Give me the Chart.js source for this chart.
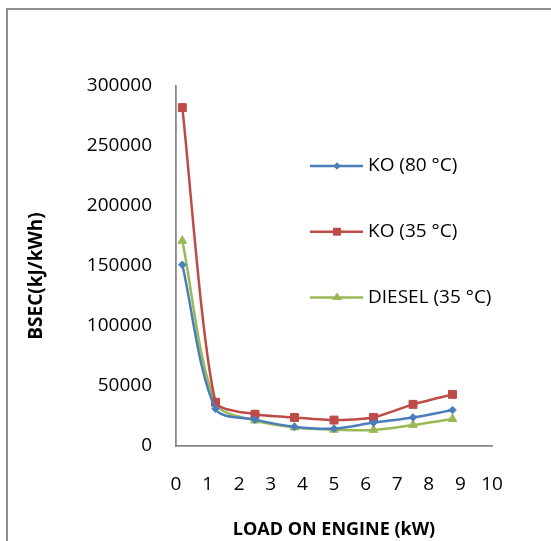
<!DOCTYPE html>
<html>
<head>
<meta charset="utf-8">
<script src="https://cdn.jsdelivr.net/npm/chart.js@4/dist/chart.umd.min.js"></script>
<style>
  html, body { margin: 0; padding: 0; background: #fff; }
  #wrap { position: relative; width: 551px; height: 541px; overflow: hidden; }
</style>
</head>
<body>
<div id="wrap"><canvas id="bsec" width="551" height="541"></canvas></div>
<script>
// load on engine (kW)
const loads = [0.2, 1.25, 2.5, 3.75, 5, 6.25, 7.5, 8.75];
// BSEC (kJ/kWh)
const ko80 = [151000, 31000, 22000, 16000, 14500, 19500, 23800, 30000];
const ko35 = [282000, 36500, 26500, 23800, 21600, 23800, 34700, 43000];
const diesel = [171000, 35500, 21200, 15500, 13600, 13400, 17500, 22500];

const xTicks = [0, 1, 2, 3, 4, 5, 6, 7, 8, 9, 10];
const yTicks = [0, 50000, 100000, 150000, 200000, 250000, 300000];

const FONT = "'Open Sans', sans-serif";
const toPoints = (ys) => ys.map((y, i) => ({ x: loads[i], y: y }));

const series = [
  { label: 'KO (80 °C)', data: ko80, color: '#4A7EBB', style: 'rectRot', r: 3.8, t: 0.3 },
  { label: 'KO (35 °C)', data: ko35, color: '#BE4B48', style: 'rect', r: 5.6, t: 0.22 },
  { label: 'DIESEL (35 °C)', data: diesel, color: '#98B954', style: 'triangle', r: 5, t: 0.3 },
];

// outer frame of the figure
const framePlugin = {
  id: 'frame',
  beforeDraw(chart) {
    const ctx = chart.ctx;
    ctx.save();
    ctx.strokeStyle = '#8e8e8e';
    ctx.lineWidth = 2;
    ctx.beginPath();
    ctx.moveTo(7, 541);
    ctx.lineTo(7, 9);
    ctx.lineTo(551, 9);
    ctx.stroke();
    ctx.restore();
  },
};

// y axis title, a bit below the middle like the original
const yTitlePlugin = {
  id: 'yTitle',
  afterDraw(chart) {
    const ctx = chart.ctx;
    ctx.save();
    ctx.translate(37, 276);
    ctx.rotate(-Math.PI / 2);
    ctx.font = 'bold 19px ' + FONT;
    ctx.fillStyle = '#000';
    ctx.textAlign = 'center';
    ctx.textBaseline = 'middle';
    ctx.fillText('BSEC(kJ/kWh)', 0, 0);
    ctx.restore();
  },
};

function drawMarker(ctx, style, r, x, y) {
  if (style === 'rect') {
    const s = r * Math.SQRT1_2;
    ctx.rect(x - s, y - s, 2 * s, 2 * s);
  } else if (style === 'rectRot') {
    ctx.moveTo(x, y - r);
    ctx.lineTo(x + r, y);
    ctx.lineTo(x, y + r);
    ctx.lineTo(x - r, y);
    ctx.closePath();
  } else {
    ctx.moveTo(x, y - r);
    ctx.lineTo(x + r, y + r * 0.5);
    ctx.lineTo(x - r, y + r * 0.5);
    ctx.closePath();
  }
}

// legend sitting inside the plot, on the right
const legendPlugin = {
  id: 'insideLegend',
  afterDraw(chart) {
    const ctx = chart.ctx;
    ctx.save();
    chart.data.datasets.forEach((ds, i) => {
      const y = 166 + i * 65.7;
      ctx.strokeStyle = ds.borderColor;
      ctx.lineWidth = 2.5;
      ctx.beginPath();
      ctx.moveTo(310, y);
      ctx.lineTo(363, y);
      ctx.stroke();
      ctx.fillStyle = ds.borderColor;
      ctx.beginPath();
      drawMarker(ctx, ds.pointStyle, ds.pointRadius, 337, y);
      ctx.fill();
      ctx.fillStyle = '#000';
      ctx.font = '19px ' + FONT;
      ctx.textAlign = 'left';
      ctx.textBaseline = 'middle';
      ctx.fillText(ds.label, 368, y);
    });
    ctx.restore();
  },
};

new Chart(document.getElementById('bsec'), {
  type: 'line',
  data: {
    datasets: series.map((s) => ({
      label: s.label,
      data: toPoints(s.data),
      borderColor: s.color,
      backgroundColor: s.color,
      pointBackgroundColor: s.color,
      pointBorderColor: s.color,
      pointStyle: s.style,
      pointRadius: s.r,
      pointBorderWidth: 1,
      borderWidth: 2.5,
      tension: s.t,
      fill: false,
    })),
  },
  options: {
    responsive: false,
    animation: false,
    devicePixelRatio: 1,
    layout: { padding: { top: 86, right: 59, bottom: 0, left: 0 } },
    plugins: {
      legend: { display: false },
      tooltip: { enabled: false },
    },
    scales: {
      x: {
        type: 'linear',
        min: 0,
        max: 10,
        afterFit: (s) => { s.height = 95; },
        afterBuildTicks: (s) => { s.ticks = xTicks.map((v) => ({ value: v })); },
        grid: { display: false, drawTicks: false },
        border: { display: true, color: '#868686', width: 1.8 },
        ticks: {
          padding: 27,
          color: '#000',
          font: { family: FONT, size: 19 },
          maxRotation: 0,
        },
        title: {
          display: true,
          text: 'LOAD ON ENGINE (kW)',
          color: '#000',
          font: { family: FONT, size: 18, weight: 'bold' },
          padding: { top: 0, bottom: 0 },
        },
      },
      y: {
        min: 0,
        max: 300000,
        afterFit: (s) => { s.width = 176; },
        afterBuildTicks: (s) => { s.ticks = yTicks.map((v) => ({ value: v })); },
        grid: { display: false, drawTicks: false },
        border: { display: true, color: '#868686', width: 1.8 },
        ticks: {
          padding: 24,
          color: '#000',
          font: { family: FONT, size: 19 },
          callback: (v) => String(v),
        },
      },
    },
  },
  plugins: [framePlugin, yTitlePlugin, legendPlugin],
});
</script>
</body>
</html>
